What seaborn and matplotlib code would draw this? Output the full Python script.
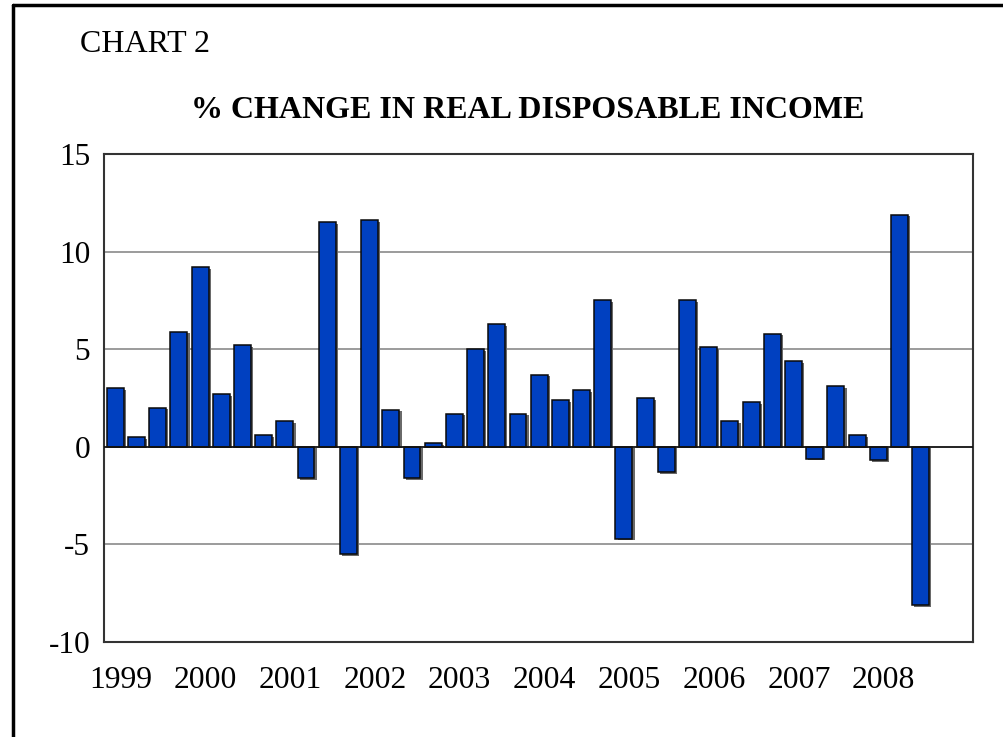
import matplotlib
matplotlib.use("Agg")
import matplotlib.pyplot as plt
import matplotlib.patheffects as pe
from matplotlib.lines import Line2D
import seaborn as sns
import pandas as pd

years = [str(y) for y in range(1999, 2009)]
quarters = [f"{y}Q{q}" for y in range(1999, 2009) for q in range(1, 5)][:39]
values = [3.0, 0.5, 2.0, 5.9,
          9.2, 2.7, 5.2, 0.6,
          1.3, -1.6, 11.5, -5.5,
          11.6, 1.9, -1.6, 0.2,
          1.7, 5.0, 6.3, 1.7,
          3.7, 2.4, 2.9, 7.5,
          -4.7, 2.5, -1.3, 7.5,
          5.1, 1.3, 2.3, 5.8,
          4.4, -0.6, 3.1, 0.6,
          -0.7, 11.9, -8.1]
yticks = [-10, -5, 0, 5, 10, 15]

df = pd.DataFrame({"quarter": quarters, "value": values})

sns.set_theme(style="white")
plt.rcParams['font.family'] = ['Liberation Serif', 'DejaVu Serif']
plt.rcParams['text.color'] = 'black'

fig = plt.figure(figsize=(10.04, 7.37), dpi=100)
ax = fig.add_axes([0.1036, 0.1289, 0.969 - 0.1036, 0.791 - 0.1289])

sns.barplot(data=df, x="quarter", y="value", order=quarters, color="#0040C0",
            saturation=1, width=0.8, edgecolor="#0a0a0a", linewidth=1.1, ax=ax,
            zorder=3)
for p in ax.patches:
    p.set_path_effects([pe.SimplePatchShadow(offset=(1.6, -1.2), shadow_rgbFace="#6a6a6a", alpha=1.0),
                        pe.Normal()])

ax.set_xlim(-0.53, 40.46)
ax.set_ylim(-10, 15)
ax.set_yticks(yticks)
ax.set_yticklabels([str(t) for t in yticks], fontsize=22.5, color="black")
ax.set_xticks([i * 4 + 0.25 for i in range(len(years))])
ax.set_xticklabels(years, fontsize=22.8, color="black")
ax.tick_params(axis="both", length=0, labelcolor="black")
ax.tick_params(axis="y", pad=10)
ax.tick_params(axis="x", pad=17)
ax.set_xlabel("")
ax.set_ylabel("")

for t in [-5, 5, 10]:
    ax.axhline(t, color="#8a8a8a", lw=1.2, zorder=1)
ax.axhline(0, color="#111111", lw=1.3, zorder=4)

for s in ax.spines.values():
    s.set_visible(True)
    s.set_color("#333333")
    s.set_linewidth(1.5)

fig.text(80 / 1004, 1 - 44 / 737, "CHART 2", fontsize=23, ha="left", va="center", color="black")
fig.text(528 / 1004, 1 - 110 / 737, "% CHANGE IN REAL DISPOSABLE INCOME",
         fontsize=23, fontweight="bold", ha="center", va="center", color="black")

# outer frame (left and top edges)
fig.add_artist(Line2D([13 / 1004, 13 / 1004], [0, 1 - 4.5 / 737], transform=fig.transFigure,
                      color="black", lw=2.5))
fig.add_artist(Line2D([13 / 1004, 1], [1 - 4.5 / 737, 1 - 4.5 / 737], transform=fig.transFigure,
                      color="black", lw=2.5))

fig.savefig("out.png", dpi=100, facecolor="white")
